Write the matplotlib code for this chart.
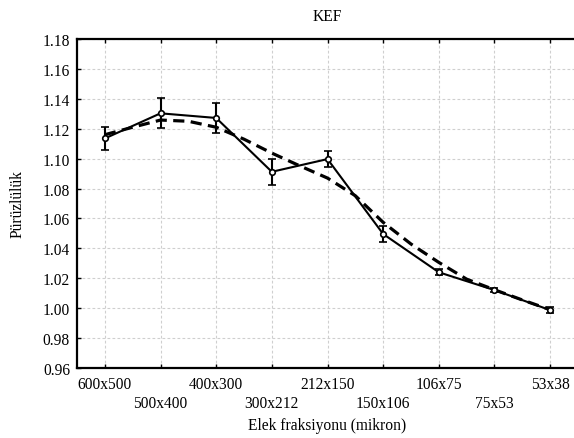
import matplotlib
matplotlib.use("Agg")
import matplotlib.pyplot as plt
import numpy as np

plt.rcParams['font.family'] = ['Liberation Serif', 'DejaVu Serif']

categories = ["600x500", "500x400", "400x300", "300x212", "212x150",
              "150x106", "106x75", "75x53", "53x38"]
roughness = [1.1135, 1.1303, 1.1272, 1.0912, 1.0997, 1.0496, 1.0240, 1.0121, 0.9987]
roughness_err = [0.0078, 0.0100, 0.0103, 0.0088, 0.0052, 0.0053, 0.0020, 0.0015, 0.0020]

# trend curve sampled at half-category steps
trend_pos = [0, 0.5, 1, 1.5, 2, 2.5, 3, 3.5, 4, 4.5, 5, 5.5, 6, 6.5, 7, 7.5, 8]
trend_val = [1.1160, 1.1210, 1.1258, 1.1250, 1.1210, 1.1130, 1.1037, 1.0952, 1.0870,
             1.0752, 1.0574, 1.0429, 1.0306, 1.0194, 1.0123, 1.0055, 0.9990]

y_ticks = [0.96, 0.98, 1.00, 1.02, 1.04, 1.06, 1.08, 1.10, 1.12, 1.14, 1.16, 1.18]

fs = 11.2
fig = plt.figure(figsize=(5.74, 4.39), dpi=100)
ax = fig.add_axes([77 / 574, 1 - 369 / 439, 501 / 574, 329 / 439])

x = np.arange(len(categories))
ax.plot(trend_pos, trend_val, color='black', lw=2.3, ls=(0, (3.5, 2)), zorder=3)
ax.errorbar(x, roughness, yerr=roughness_err, color='black', lw=1.5,
            elinewidth=1.5, capsize=3, capthick=1.5, marker='o', ms=4,
            mfc='white', mec='black', mew=1.2, zorder=4)

ax.set_xlim(-0.5, len(categories) - 0.5)
ax.set_ylim(0.96, 1.18)
ax.set_yticks(y_ticks)
ax.set_yticklabels([f"{v:.2f}" for v in y_ticks], fontsize=fs)
ax.set_xticks(x)
ax.set_xticklabels([c if i % 2 == 0 else "\n" + c for i, c in enumerate(categories)],
                   fontsize=fs, linespacing=1.25)

ax.tick_params(direction='in', length=3, width=1, top=True, right=False)
ax.tick_params(axis='x', pad=6)
ax.tick_params(axis='y', pad=5)
ax.grid(True, color='#cfcfcf', ls=(0, (2.5, 2)), lw=0.8)
ax.set_axisbelow(True)
for s in ax.spines.values():
    s.set_linewidth(1.6)

ax.set_title("KEF", fontsize=fs, pad=14)
ax.set_xlabel("Elek fraksiyonu (mikron)", fontsize=fs, labelpad=4)
ax.set_ylabel("Pürüzlülük", fontsize=fs, labelpad=12)

fig.savefig("out.png", dpi=100)
